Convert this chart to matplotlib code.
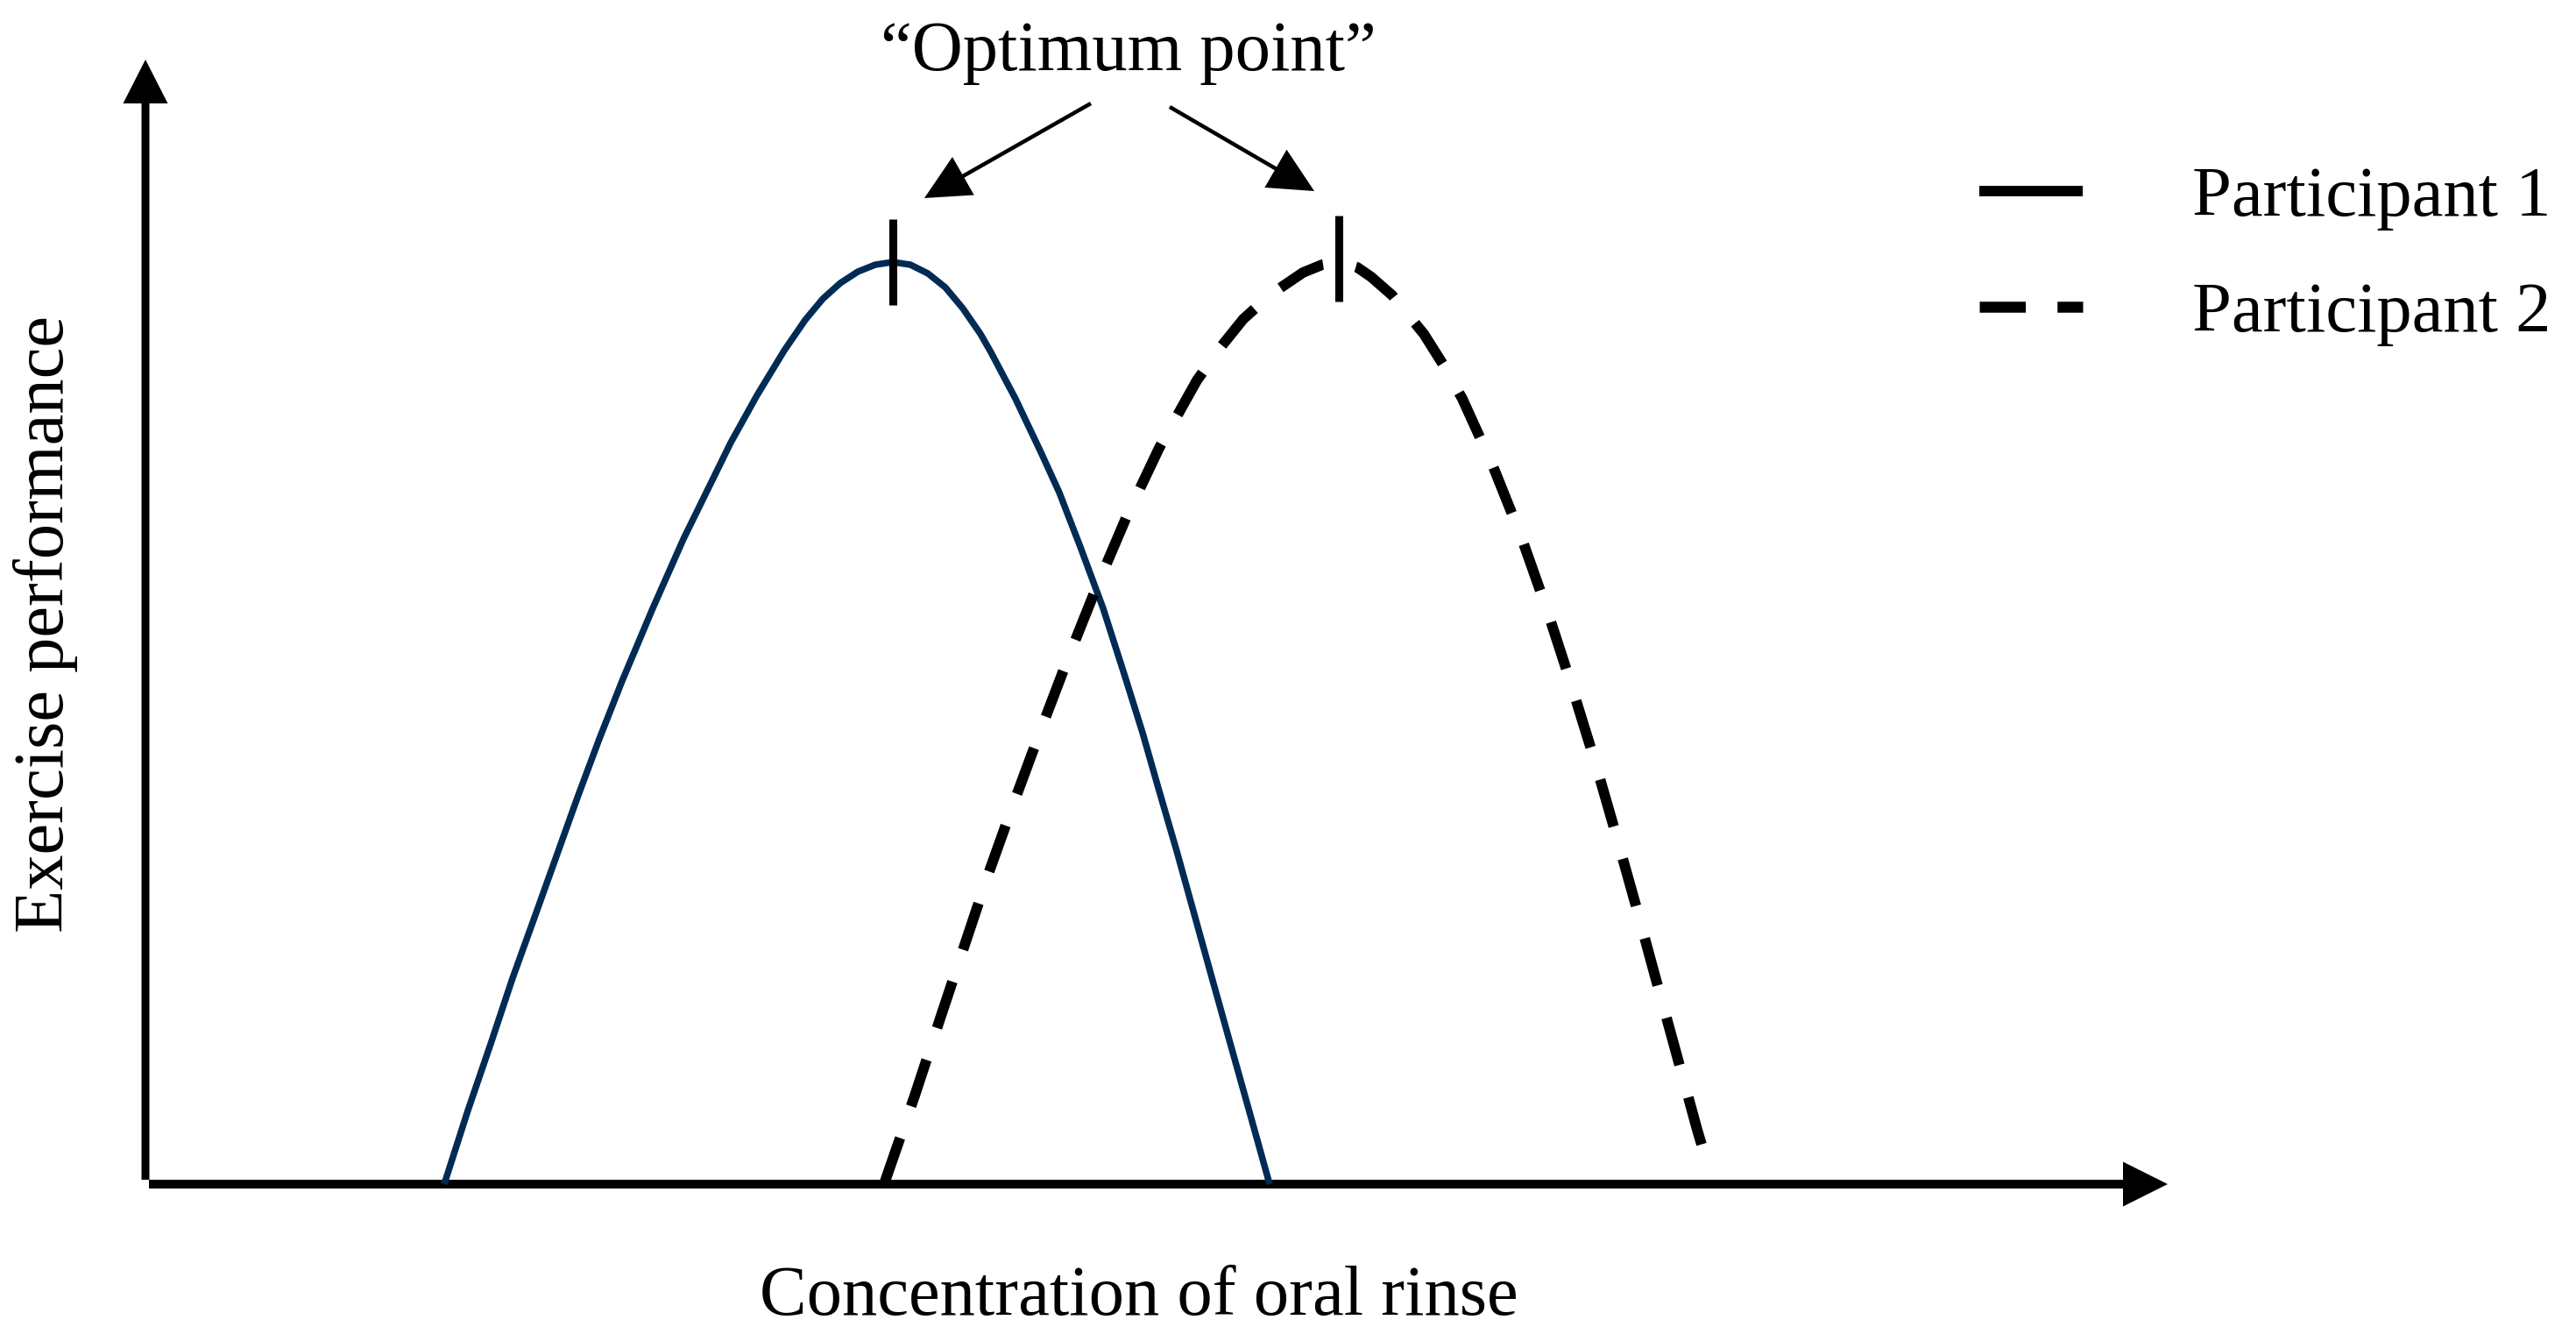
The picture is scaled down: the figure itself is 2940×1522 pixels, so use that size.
import matplotlib
matplotlib.use("Agg")
import matplotlib.pyplot as plt
from matplotlib.lines import Line2D
import numpy as np

# ---- data ----
# Participant 1 (solid curve): concentration vs exercise performance
p1_conc = [3.41, 3.68, 3.94, 4.19, 4.45, 4.69, 4.93, 5.18, 5.44, 5.79, 6.14,
           6.41, 6.68, 6.98, 7.29, 7.53, 7.73, 7.93, 8.13, 8.33, 8.53,
           8.73, 8.93, 9.13, 9.33, 9.53, 9.65, 9.93, 10.22, 10.43, 10.67,
           10.93, 11.18, 11.38, 11.56, 11.77, 11.97, 12.17, 12.36, 12.59, 12.83]
p1_perf = [0.00, 0.84, 1.60, 2.35, 3.07, 3.74, 4.41, 5.08, 5.74, 6.57, 7.36,
           7.91, 8.46, 9.00, 9.51, 9.86, 10.10, 10.28, 10.41, 10.49, 10.52,
           10.49, 10.39, 10.23, 9.99, 9.70, 9.49, 8.96, 8.35, 7.89, 7.27,
           6.57, 5.79, 5.15, 4.52, 3.80, 3.08, 2.36, 1.68, 0.86, 0.00]

# Participant 2 (dashed curve)
p2_conc = [8.43, 8.78, 9.07, 9.38, 9.62, 9.91, 10.21, 10.53, 10.85, 11.20, 11.57,
           12.00, 12.28, 12.53, 12.73, 12.93, 13.21, 13.43, 13.63,
           13.83, 13.99, 14.23, 14.59, 14.83, 15.03, 15.38, 15.70, 16.00,
           16.25, 16.55, 16.78, 17.01, 17.23, 17.45, 17.71, 17.79]
p2_perf = [0.00, 1.01, 1.89, 2.82, 3.54, 4.35, 5.16, 6.00, 6.80, 7.62, 8.40,
           9.17, 9.56, 9.87, 10.05, 10.21, 10.40, 10.49, 10.52,
           10.46, 10.35, 10.14, 9.70, 9.32, 8.96, 8.19, 7.39, 6.54,
           5.77, 4.80, 4.00, 3.18, 2.37, 1.57, 0.62, 0.35]

# optimum points (peak markers)
opt_conc = [8.53, 13.62]
opt_perf_low = [10.03, 10.07]
opt_perf_high = [11.01, 11.05]

labels = ["Participant 1", "Participant 2"]
x_label = "Concentration of oral rinse"
y_label = "Exercise performance"
annot_text = "\u201cOptimum point\u201d"

# ---- figure ----
W, H, DPI = 2940, 1522, 100
fig = plt.figure(figsize=(W / DPI, H / DPI), dpi=DPI)
ax = fig.add_axes([0, 0, 1, 1])
ax.set_xlim(-1.66, 27.74)
ax.set_ylim(-1.71, 13.51)
ax.axis("off")

FONT = "Liberation Serif"
FS = 58
NAVY = "#002B54"

# axes with arrowheads
ax.arrow(0, 0.05, 0, 12.83 - 0.05, width=0.09, head_width=0.51, head_length=0.50,
         length_includes_head=True, color="black", lw=0)
ax.arrow(0.04, 0, 23.08 - 0.04, 0, width=0.10, head_width=0.51, head_length=0.51,
         length_includes_head=True, color="black", lw=0)

# curves
ax.plot(p1_conc, p1_perf, color=NAVY, lw=5.4, solid_capstyle="butt",
        solid_joinstyle="round", zorder=3)

# dash pattern tuned so a gap falls on the optimum (as in the reference)
LW2 = 8.6
ax_w_px = W / (27.74 + 1.66)
ax_h_px = H / (13.51 + 1.71)
xs = np.asarray(p2_conc) * ax_w_px
ys = np.asarray(p2_perf) * ax_h_px
seg = np.hypot(np.diff(xs), np.diff(ys))
peak = int(np.argmax(p2_perf))
L_units = seg[:peak].sum() / (LW2 * DPI / 72.0)
on0, off0 = 4.5, 3.1
n = round((L_units - on0 - off0 / 2) / (on0 + off0))
s = L_units / (n * (on0 + off0) + on0 + off0 / 2)
ax.plot(p2_conc, p2_perf, color="black", lw=LW2, linestyle=(0, (on0 * s, off0 * s)),
        dash_capstyle="butt", dash_joinstyle="round", zorder=3)

# optimum markers
for xc, ylo, yhi in zip(opt_conc, opt_perf_low, opt_perf_high):
    ax.plot([xc, xc], [ylo, yhi], color="black", lw=6.5, solid_capstyle="butt", zorder=4)

# annotation arrows
ax.arrow(10.79, 12.33, 8.89 - 10.79, 11.25 - 12.33, width=0.045, head_width=0.50,
         head_length=0.51, length_includes_head=True, color="black", lw=0)
ax.arrow(11.69, 12.29, 13.34 - 11.69, 11.33 - 12.29, width=0.045, head_width=0.50,
         head_length=0.51, length_includes_head=True, color="black", lw=0)
ax.text(11.22, 12.71, annot_text, ha="center", va="baseline", fontsize=FS, family=FONT)

# axis labels
ax.text(11.34, -1.49, x_label, ha="center", va="baseline", fontsize=FS, family=FONT)
ax.text(-0.94, 6.39, y_label, ha="center", va="baseline", rotation=90,
        rotation_mode="anchor", fontsize=FS, family=FONT)

# legend
handles = [
    Line2D([], [], color="black", lw=8.6, solid_capstyle="butt"),
    Line2D([], [], color="black", lw=9.0, linestyle=(0, (4.2, 2.9)), dash_capstyle="butt"),
]
leg = ax.legend(handles, labels, loc="upper left",
                bbox_to_anchor=((2259 - 166) / 100, (1351 - 190) / 100),
                bbox_transform=ax.transData, frameon=False,
                prop={"family": FONT, "size": FS},
                handlelength=1.47, handletextpad=1.55, labelspacing=0.72,
                borderpad=0, borderaxespad=0)

fig.savefig("out.png", dpi=DPI)
